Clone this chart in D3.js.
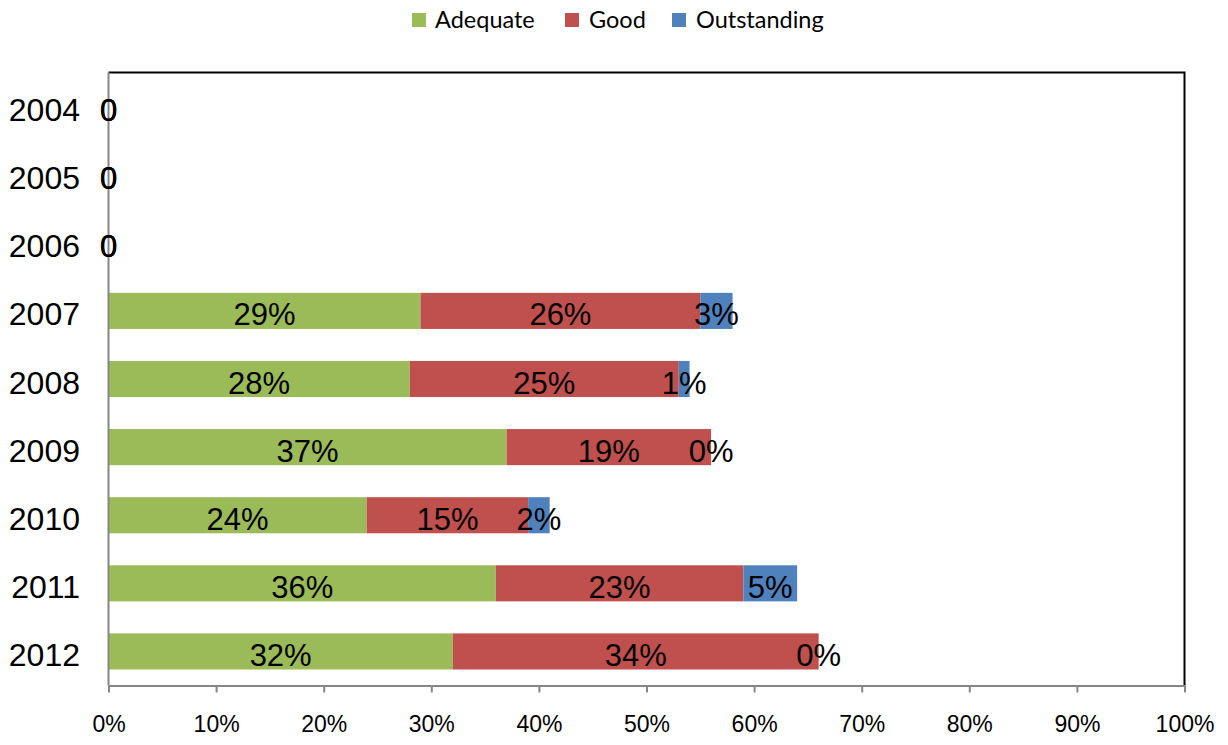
<!DOCTYPE html>
<html><head><meta charset="utf-8">
<script src="https://cdn.jsdelivr.net/npm/d3@7"></script>
<style>body{margin:0;background:#fff;} svg{display:block;}</style>
</head><body>
<svg id="chart" width="1228" height="745"></svg>
<script>
const years = ["2004","2005","2006","2007","2008","2009","2010","2011","2012"];
const seriesNames = ["Adequate","Good","Outstanding"];
const seriesColors = ["#9BBB59","#C0504D","#4F81BD"];
const adequate =    [null,null,null,29,28,37,24,36,32];
const good =        [null,null,null,26,25,19,15,23,34];
const outstanding = [null,null,null,3,1,0,2,5,0];
const xTicks = [0,10,20,30,40,50,60,70,80,90,100];

const svg = d3.select("#chart");
const m = {left:108.5, right:1184.5, top:72.5, bottom:685.5};
const x = d3.scaleLinear().domain([0,100]).range([m.left, m.right]);
const y = d3.scaleBand().domain(years).range([m.top, m.bottom]).paddingInner(0.47).paddingOuter(0.235);

const rows = years.map((yr,i)=>({year:yr, vals:[adequate[i],good[i],outstanding[i]]}));

// bars
rows.forEach(r=>{
  let acc = 0;
  r.vals.forEach((v,s)=>{
    const val = v==null?0:v;
    if(val>0){
      svg.append("rect").attr("x",x(acc)).attr("y",y(r.year))
        .attr("width",x(acc+val)-x(acc)).attr("height",y.bandwidth())
        .attr("fill",seriesColors[s]);
    }
    acc += val;
  });
});

// frame top/right
svg.append("path").attr("d",`M${m.left},${m.top}H${m.right}V${m.bottom}`)
  .attr("fill","none").attr("stroke","#000").attr("stroke-width",2);

// x axis
const xAxis = d3.axisBottom(x).tickValues(xTicks).tickFormat(d=>d+"%").tickSize(7).tickSizeOuter(0);
const gx = svg.append("g").attr("transform",`translate(0,${m.bottom})`).call(xAxis);
gx.select(".domain").attr("stroke","#868686").attr("stroke-width",2);
gx.selectAll(".tick line").attr("stroke","#868686").attr("stroke-width",2);
gx.selectAll(".tick text").attr("font-family","Liberation Sans, Arial, sans-serif")
  .attr("font-size",23).attr("fill","#000").attr("y",30).attr("dy","0.71em");

// y axis line
svg.append("line").attr("x1",m.left).attr("x2",m.left).attr("y1",m.top).attr("y2",m.bottom)
  .attr("stroke","#868686").attr("stroke-width",2);

// year labels
svg.selectAll(".yl").data(years).enter().append("text")
  .attr("x",80).attr("y",d=>y(d)+y.bandwidth()/2+14.5)
  .attr("text-anchor","end").attr("font-family","Liberation Sans, Arial, sans-serif")
  .attr("font-size",32).text(d=>d);

// data labels
rows.forEach(r=>{
  let acc = 0;
  r.vals.forEach((v,s)=>{
    const val = v==null?0:v;
    const cx = x(acc+val/2);
    svg.append("text").attr("x",cx).attr("y",y(r.year)+y.bandwidth()/2+14.5)
      .attr("text-anchor","middle").attr("font-family","Liberation Sans, Arial, sans-serif")
      .attr("font-size",31).attr("fill","#000")
      .text(v==null?"0":v+"%");
    acc += val;
  });
});

// legend
const legX = [412,565,672];
const legText = [435,589,696];
seriesNames.forEach((n,i)=>{
  svg.append("rect").attr("x",legX[i]).attr("y",13).attr("width",14).attr("height",14).attr("fill",seriesColors[i]);
  svg.append("text").attr("x",legText[i]).attr("y",28).attr("font-family","Lato, Open Sans, sans-serif")
    .attr("font-size",23.5).attr("fill","#000").text(n);
});
</script>
</body></html>
